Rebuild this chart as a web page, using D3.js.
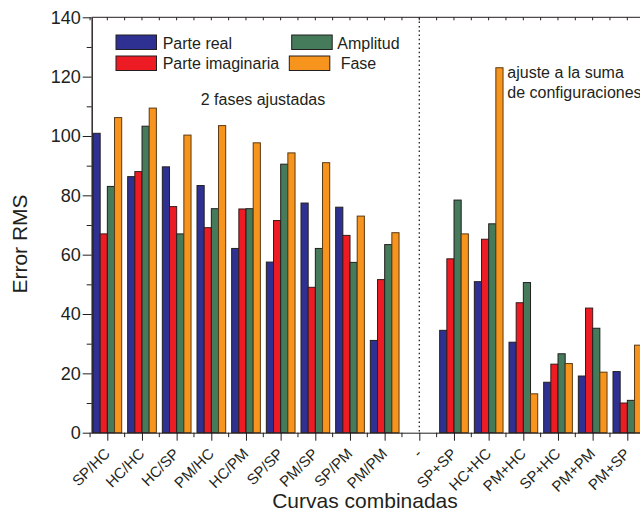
<!DOCTYPE html>
<html>
<head>
<meta charset="utf-8">
<script src="https://cdn.jsdelivr.net/npm/d3@7"></script>
<style>
  html, body { margin: 0; padding: 0; background: #fff; }
  svg { display: block; }
  text { font-family: "Liberation Sans", Arial, sans-serif; fill: #231f20; }
</style>
</head>
<body>
<svg id="chart" width="640" height="514"></svg>
<script>
// Combined curves (x categories); "-" is an empty separator slot
const categories = ["SP/HC", "HC/HC", "HC/SP", "PM/HC", "HC/PM", "SP/SP", "PM/SP", "SP/PM", "PM/PM",
                    "-", "SP+SP", "HC+HC", "PM+HC", "SP+HC", "PM+PM", "PM+SP"];
const seriesNames = ["Parte real", "Parte imaginaria", "Amplitud", "Fase"];

// RMS error per series (null = no bar)
const parteReal       = [100.9, 86.3, 89.6, 83.3, 62.1, 57.5, 77.4, 76.0, 31.1, null, 34.5, 50.9, 30.5, 17.0, 19.1, 20.6];
const parteImaginaria = [67.0, 88.0, 76.2, 69.1, 75.4, 71.5, 49.0, 66.5, 51.6, null, 58.6, 65.2, 43.8, 23.1, 42.0, 10.0];
const amplitud        = [83.0, 103.3, 67.0, 75.5, 75.5, 90.5, 62.1, 57.4, 63.4, null, 78.4, 70.4, 50.6, 26.6, 35.2, 10.9];
const fase            = [106.2, 109.4, 100.3, 103.5, 97.7, 94.3, 91.0, 73.0, 67.4, null, 67.0, 123.0, 13.1, 23.3, 20.4, 29.5];

const yTicks = [0, 20, 40, 60, 80, 100, 120, 140];
const yMinorTicks = [10, 30, 50, 70, 90, 110, 130];

const seriesValues = [parteReal, parteImaginaria, amplitud, fase];
const colors = ["#2e3192", "#ed1c24", "#457a5a", "#f7941d"];
const strokes = ["#231f20", "#3a1a1a", "#231f20", "#5a3a12"];

const svg = d3.select("#chart");

const plotLeft = 91.7, plotRight = 643, plotTop = 17.3, plotBottom = 432.7;

const x = d3.scalePoint().domain(categories).range([107.3, 627.3]);
const step = x.step();
const inner = d3.scaleBand().domain(seriesNames).range([-14.3, 14.4]);
const y = d3.scaleLinear().domain([0, 140]).range([plotBottom, plotTop]);

// Bars
const rows = [];
categories.forEach((c, i) => {
  seriesNames.forEach((s, j) => {
    const v = seriesValues[j][i];
    if (v != null) rows.push({ c, s, v, j });
  });
});

svg.append("g").selectAll("rect").data(rows).join("rect")
  .attr("x", d => x(d.c) + inner(d.s))
  .attr("y", d => y(d.v))
  .attr("width", inner.bandwidth())
  .attr("height", d => y(0) - y(d.v))
  .attr("fill", d => colors[d.j])
  .attr("stroke", d => strokes[d.j])
  .attr("stroke-width", 1);

// Dotted separator between the two groups of fits
svg.append("line")
  .attr("x1", x("-")).attr("x2", x("-"))
  .attr("y1", plotTop).attr("y2", plotBottom)
  .attr("stroke", "#231f20").attr("stroke-width", 1.3)
  .attr("stroke-dasharray", "1.5,2.8");

// Left axis
const yAxis = svg.append("g").attr("transform", `translate(${plotLeft},0)`)
  .call(d3.axisLeft(y).tickValues(yTicks).tickSize(9).tickPadding(2).tickSizeOuter(0));
yAxis.selectAll("text").attr("font-size", 18).attr("font-family", "Liberation Sans, Arial, sans-serif").attr("fill", "#231f20");
svg.append("g").attr("transform", `translate(${plotLeft},0)`)
  .call(d3.axisLeft(y).tickValues(yMinorTicks).tickSize(5).tickFormat("").tickSizeOuter(0));

// Bottom axis
const xAxis = svg.append("g").attr("transform", `translate(0,${plotBottom})`)
  .call(d3.axisBottom(x).tickSize(8).tickSizeOuter(0));
xAxis.select(".domain").attr("d", `M${plotLeft},0.5H${plotRight}`);
xAxis.selectAll("text")
  .attr("font-size", 15)
  .attr("font-family", "Liberation Sans, Arial, sans-serif")
  .attr("fill", "#231f20")
  .attr("text-anchor", "end")
  .attr("dy", null)
  .attr("y", 0)
  .attr("transform", "translate(3,22) rotate(-45)");

// Minor ticks between categories
const halfPositions = categories.slice(0, -1).map(c => x(c) + step / 2).concat([x(categories[0]) - step / 2 + 0.1]);
svg.append("g").selectAll("line").data(halfPositions).join("line")
  .attr("x1", d => d).attr("x2", d => d)
  .attr("y1", plotBottom).attr("y2", plotBottom + 4.5)
  .attr("stroke", "#231f20").attr("stroke-width", 1);

// Top frame line with small inward ticks
svg.append("line").attr("x1", plotLeft).attr("x2", plotRight).attr("y1", plotTop).attr("y2", plotTop)
  .attr("stroke", "#231f20").attr("stroke-width", 1);
const topTicks = categories.map(c => x(c)).concat(halfPositions);
svg.append("g").selectAll("line").data(topTicks).join("line")
  .attr("x1", d => d).attr("x2", d => d)
  .attr("y1", plotTop).attr("y2", plotTop + 3)
  .attr("stroke", "#231f20").attr("stroke-width", 1);

svg.selectAll(".domain").attr("stroke", "#231f20");
svg.selectAll(".tick line").attr("stroke", "#231f20");

// Axis titles
svg.append("text")
  .attr("transform", `translate(27,244) rotate(-90)`)
  .attr("text-anchor", "middle")
  .attr("font-size", 21)
  .text("Error RMS");
svg.append("text")
  .attr("x", 365).attr("y", 508)
  .attr("text-anchor", "middle")
  .attr("font-size", 21)
  .text("Curvas combinadas");

// Legend
const legend = [
  { name: seriesNames[0], color: colors[0], sx: 116, sy: 35, tx: 162.7, ty: 48.5 },
  { name: seriesNames[1], color: colors[1], sx: 116, sy: 56, tx: 162.7, ty: 68.5 },
  { name: seriesNames[2], color: colors[2], sx: 291.7, sy: 35, tx: 337.3, ty: 48.5 },
  { name: seriesNames[3], color: colors[3], sx: 289.3, sy: 56, tx: 340.7, ty: 68.5 }
];
const lg = svg.append("g").selectAll("g").data(legend).join("g");
lg.append("rect")
  .attr("x", d => d.sx).attr("y", d => d.sy)
  .attr("width", 40.5).attr("height", 14.5)
  .attr("fill", d => d.color).attr("stroke", "#231f20").attr("stroke-width", 1);
lg.append("text")
  .attr("x", d => d.tx).attr("y", d => d.ty)
  .attr("font-size", 16)
  .text(d => d.name);

// Annotations
svg.append("text").attr("x", 200.7).attr("y", 105).attr("font-size", 16).text("2 fases ajustadas");
svg.append("text").attr("x", 507.3).attr("y", 77.5).attr("font-size", 16).text("ajuste a la suma");
svg.append("text").attr("x", 507.3).attr("y", 97.5).attr("font-size", 16).text("de configuraciones");
</script>
</body>
</html>
